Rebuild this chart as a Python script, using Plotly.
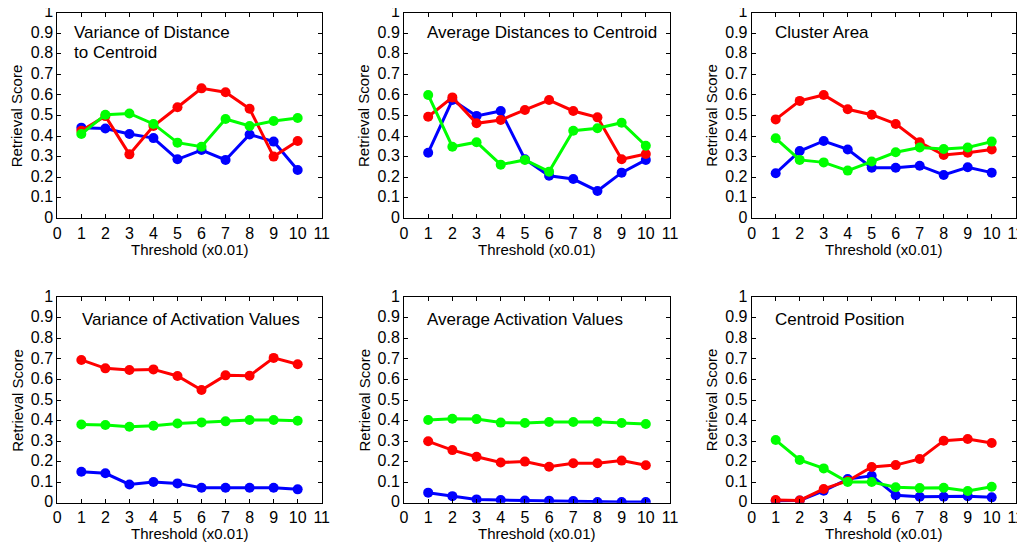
import plotly.graph_objects as go
from plotly.subplots import make_subplots

thresholds = [1, 2, 3, 4, 5, 6, 7, 8, 9, 10]

titles = [
    "Variance of Distance<br>to Centroid",
    "Average Distances to Centroid",
    "Cluster Area",
    "Variance of Activation Values",
    "Average Activation Values",
    "Centroid Position",
]
x_title = "Threshold (x0.01)"
y_title = "Retrieval Score"

blue_vals = [
    [0.441, 0.437, 0.41, 0.39, 0.287, 0.332, 0.284, 0.408, 0.373, 0.235],
    [0.319, 0.575, 0.498, 0.522, 0.287, 0.207, 0.191, 0.133, 0.222, 0.284],
    [0.219, 0.327, 0.376, 0.335, 0.246, 0.246, 0.256, 0.211, 0.248, 0.222],
    [0.151, 0.143, 0.089, 0.101, 0.094, 0.073, 0.073, 0.073, 0.073, 0.065],
    [0.049, 0.032, 0.016, 0.013, 0.011, 0.010, 0.008, 0.003, 0.003, 0.003],
    [0.010, 0.011, 0.058, 0.115, 0.131, 0.036, 0.029, 0.029, 0.032, 0.026],
]
red_vals = [
    [0.426, 0.497, 0.311, 0.449, 0.54, 0.632, 0.613, 0.533, 0.30, 0.376],
    [0.494, 0.588, 0.462, 0.478, 0.527, 0.575, 0.522, 0.491, 0.287, 0.313],
    [0.481, 0.571, 0.60, 0.53, 0.504, 0.459, 0.37, 0.308, 0.319, 0.335],
    [0.695, 0.654, 0.646, 0.649, 0.617, 0.549, 0.62, 0.618, 0.705, 0.674],
    [0.299, 0.256, 0.224, 0.196, 0.20, 0.175, 0.192, 0.192, 0.205, 0.182],
    [0.013, 0.011, 0.067, 0.106, 0.174, 0.183, 0.213, 0.302, 0.31, 0.291],
]
green_vals = [
    [0.41, 0.504, 0.51, 0.459, 0.368, 0.348, 0.483, 0.449, 0.473, 0.488],
    [0.60, 0.348, 0.37, 0.261, 0.284, 0.227, 0.426, 0.438, 0.465, 0.353],
    [0.389, 0.284, 0.272, 0.232, 0.276, 0.321, 0.344, 0.337, 0.344, 0.373],
    [0.381, 0.378, 0.37, 0.375, 0.386, 0.391, 0.396, 0.403, 0.403, 0.399],
    [0.403, 0.409, 0.407, 0.39, 0.388, 0.393, 0.393, 0.394, 0.388, 0.383],
    [0.305, 0.208, 0.167, 0.101, 0.101, 0.075, 0.071, 0.073, 0.057, 0.078],
]

x_ticks = list(range(0, 12))
y_ticks = [round(i * 0.1, 1) for i in range(11)]
y_ticklabels = ["0", "0.1", "0.2", "0.3", "0.4", "0.5", "0.6", "0.7", "0.8", "0.9", "1"]

W, H = 1025, 542
OFF = 8  # default page body margin
x_doms_px = [(57.3, 321.7), (404, 670), (751.7, 1015.7)]
y_doms_px = [(12.7, 218.3), (297.3, 502.7)]
title_x_px = [64, 417, 765, 72, 417, 765]
title_y_px = [13, 13, 13, 300, 300, 300]
LINE_GAP = 20
YTITLE_GAP = 40.5
XTITLE_GAP = 31

fig = make_subplots(rows=2, cols=3)

series = [("#0000FF", blue_vals), ("#FF0000", red_vals), ("#00FF00", green_vals)]
FONT = "Liberation Sans, Arial, Helvetica, sans-serif"

for i in range(6):
    r, c = i // 3 + 1, i % 3 + 1
    for color, vals in series:
        fig.add_trace(
            go.Scatter(
                x=thresholds, y=vals[i], mode="lines+markers",
                line=dict(color=color, width=3),
                marker=dict(color=color, size=10),
                showlegend=False,
            ),
            row=r, col=c,
        )
    xd = x_doms_px[c - 1]
    yd = y_doms_px[r - 1]
    fig.update_xaxes(
        domain=[(xd[0] - OFF) / W, (xd[1] - OFF) / W], range=[0, 11], tickvals=x_ticks,
        ticks="inside", ticklen=4, tickcolor="black", showline=True, linecolor="black",
        linewidth=1, mirror="ticks", showgrid=False, zeroline=False, automargin=False,
        ticklabeloverflow="allow",
        tickfont=dict(size=16, color="black", family=FONT),
        row=r, col=c,
    )
    fig.update_yaxes(
        domain=[1 - (yd[1] - OFF) / H, 1 - (yd[0] - OFF) / H], range=[0, 1], tickvals=y_ticks,
        ticktext=y_ticklabels,
        ticks="inside", ticklen=4, tickcolor="black", showline=True, linecolor="black",
        linewidth=1, mirror="ticks", showgrid=False, zeroline=False, automargin=False,
        ticklabeloverflow="allow", ticklabelshift=-1,
        tickfont=dict(size=16, color="black", family=FONT),
        row=r, col=c,
    )
    # axis titles
    fig.add_annotation(
        x=((xd[0] + xd[1]) / 2 - OFF) / W, y=1 - (yd[1] + XTITLE_GAP - OFF) / H,
        xref="paper", yref="paper", xanchor="center", yanchor="middle", showarrow=False,
        text=x_title, font=dict(size=15, color="black", family=FONT),
    )
    fig.add_annotation(
        x=(xd[0] - YTITLE_GAP - OFF) / W, y=1 - ((yd[0] + yd[1]) / 2 - OFF) / H,
        xref="paper", yref="paper", xanchor="center", yanchor="middle", showarrow=False,
        textangle=-90, text=y_title, font=dict(size=15, color="black", family=FONT),
    )
    for k, line in enumerate(titles[i].split("<br>")):
        fig.add_annotation(
            x=title_x_px[i] / W, y=1 - (title_y_px[i] + k * LINE_GAP) / H,
            xref="paper", yref="paper",
            xanchor="left", yanchor="top", align="left", showarrow=False,
            text=line, font=dict(size=17, color="black", family=FONT),
        )

fig.update_layout(
    width=W, height=H, margin=dict(l=0, r=0, t=0, b=0),
    paper_bgcolor="white", plot_bgcolor="white",
    font=dict(family=FONT, color="black"),
)

fig.write_html("out.html")
